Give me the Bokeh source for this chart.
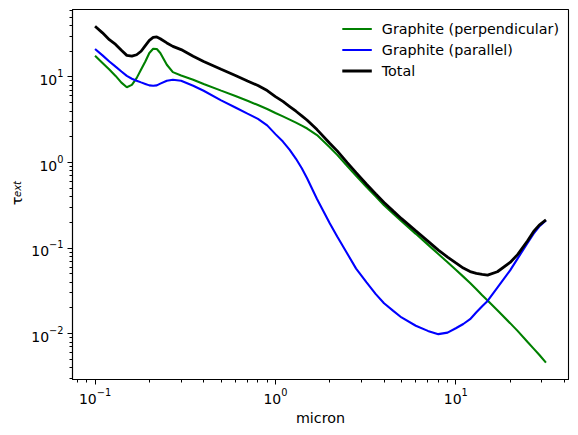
import numpy as np
from bokeh.plotting import figure
from bokeh.models import Range1d, LogTicker, Label, Legend, LegendItem
from bokeh.embed import file_html
from bokeh.resources import INLINE

# Extinction optical depth of graphite grains versus wavelength (micron)
wavelength = [0.1, 0.11, 0.12, 0.13, 0.14, 0.15, 0.16, 0.17, 0.18, 0.19,
              0.2, 0.21, 0.22, 0.23, 0.25, 0.27, 0.3, 0.35, 0.4, 0.5,
              0.6, 0.7, 0.8, 0.9, 1.0, 1.1, 1.2, 1.3, 1.4, 1.5,
              1.7, 2.0, 2.2, 2.5, 2.8, 3.2, 3.6, 4.0, 4.5, 5.0,
              6.0, 7.0, 8.0, 9.0, 10.0, 11.0, 12.0, 13.0, 14.0, 15.0,
              17.0, 20.0, 22.0, 25.0, 27.0, 29.0, 31.6]

tau_perp = [17.7, 14.6, 12.2, 10.3, 8.6, 7.6, 8.1, 9.7, 12.2, 15.2,
            19.1, 21.4, 21.2, 19.1, 13.9, 11.4, 10.4, 9.3, 8.3, 6.93,
            6.0, 5.27, 4.70, 4.22, 3.80, 3.47, 3.18, 2.93, 2.70, 2.50,
            2.10, 1.51, 1.23, 0.912, 0.703, 0.519, 0.400, 0.317, 0.252, 0.206,
            0.147, 0.110, 0.0853, 0.0683, 0.0558, 0.0465, 0.0392, 0.0331, 0.0282, 0.0245,
            0.0188, 0.0133, 0.0108, 0.0080, 0.0067, 0.00568, 0.00459]

tau_par = [21.2, 17.9, 15.2, 13.2, 11.6, 10.3, 9.55, 9.05, 8.65, 8.3,
           7.98, 7.9, 7.98, 8.36, 9.05, 9.3, 9.05, 7.9, 6.9, 5.33,
           4.40, 3.73, 3.24, 2.72, 2.15, 1.76, 1.41, 1.107, 0.86, 0.652,
           0.376, 0.195, 0.137, 0.0865, 0.0577, 0.0399, 0.0290, 0.0227, 0.0185, 0.0155,
           0.0124, 0.0108, 0.00989, 0.0103, 0.0116, 0.0130, 0.0148, 0.0178, 0.0210, 0.0242,
           0.0346, 0.0550, 0.0755, 0.1153, 0.148, 0.179, 0.210]

tau_total = [39.1, 32.8, 27.3, 24.0, 20.5, 17.9, 17.5, 18.2, 20.0, 23.3,
             26.8, 29.0, 29.4, 28.0, 25.0, 22.8, 20.9, 17.5, 15.2, 12.3,
             10.4, 9.0, 7.95, 6.94, 5.9, 5.18, 4.52, 3.98, 3.52, 3.12,
             2.43, 1.68, 1.37, 1.0, 0.762, 0.558, 0.43, 0.342, 0.271, 0.221,
             0.159, 0.121, 0.095, 0.0787, 0.0672, 0.0585, 0.0532, 0.0508, 0.0494, 0.0485,
             0.053, 0.068, 0.084, 0.122, 0.157, 0.186, 0.214]

FONT = "DejaVu Sans"
FS = "14px"


def log_limits(values, margin=0.05):
    lo, hi = np.log10(min(values)), np.log10(max(values))
    pad = (hi - lo) * margin
    return 10 ** (lo - pad), 10 ** (hi + pad)


xlo, xhi = log_limits(wavelength)
ylo, yhi = log_limits(tau_perp + tau_par + tau_total)

p = figure(width=578, height=435, x_axis_type="log", y_axis_type="log",
           x_range=Range1d(xlo, xhi), y_range=Range1d(ylo, yhi),
           output_backend="svg", toolbar_location=None,
           min_border_left=72, min_border_right=10,
           min_border_top=9, min_border_bottom=56)

p.grid.visible = False
p.outline_line_color = "black"
p.outline_line_width = 1.1
p.background_fill_color = "white"
p.border_fill_color = "white"

for ax in (p.xaxis[0], p.yaxis[0]):
    ax.ticker = LogTicker(num_minor_ticks=10)
    ax.axis_line_color = "black"
    ax.axis_line_width = 1.1
    ax.major_tick_line_color = "black"
    ax.minor_tick_line_color = "black"
    ax.major_tick_in = 0
    ax.major_tick_out = 5
    ax.minor_tick_in = 0
    ax.minor_tick_out = 3
    ax.major_label_text_font = FONT
    ax.major_label_text_font_size = FS
    ax.major_label_text_color = "black"
    ax.axis_label_text_font = FONT
    ax.axis_label_text_font_size = "14.3px"
    ax.axis_label_text_font_style = "normal"
    ax.axis_label_text_color = "black"

p.xaxis.axis_label = "micron"
p.xaxis.major_label_standoff = 3
p.xaxis.axis_label_standoff = 3
p.yaxis.major_label_standoff = 4

r_perp = p.line(wavelength, tau_perp, line_color="green", line_width=2.1)
r_par = p.line(wavelength, tau_par, line_color="blue", line_width=2.1)
r_tot = p.line(wavelength, tau_total, line_color="black", line_width=2.8)

# y-axis label: tau with an italic "ext" subscript, rotated, in the left border
p.add_layout(Label(x=16, y=200.5, x_units="canvas", y_units="canvas", text="τ",
                   angle=np.pi / 2, text_font=FONT, text_font_size="14.3px",
                   text_align="center", text_baseline="middle",
                   text_color="black"), "left")
p.add_layout(Label(x=16.5, y=188.5, x_units="canvas", y_units="canvas", text="ext",
                   angle=np.pi / 2, text_font=FONT, text_font_size="10px",
                   text_font_style="italic", text_align="center",
                   text_baseline="middle", text_color="black"), "left")

legend = Legend(items=[LegendItem(label="Graphite (perpendicular)", renderers=[r_perp]),
                       LegendItem(label="Graphite (parallel)", renderers=[r_par]),
                       LegendItem(label="Total", renderers=[r_tot])],
                location="top_right", margin=9, padding=0, spacing=0,
                glyph_width=30, glyph_height=21, label_height=21,
                label_standoff=10, label_text_font=FONT, label_text_font_size="14.3px",
                label_text_color="black", border_line_color=None,
                background_fill_alpha=0)
p.add_layout(legend)

open("out.html", "w").write(file_html(p, INLINE))
